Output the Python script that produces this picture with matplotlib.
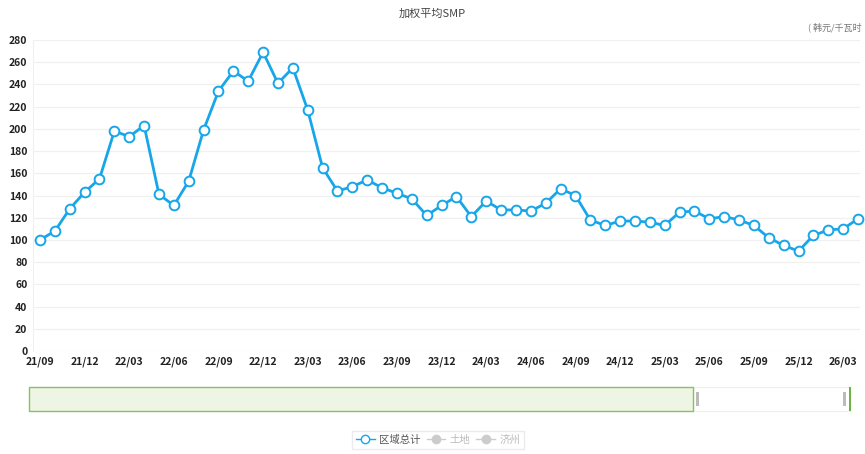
import matplotlib.pyplot as plt
from matplotlib.patches import Rectangle
from matplotlib.lines import Line2D

plt.rcParams['font.family'] = ['Noto Sans CJK SC', 'DejaVu Sans']

# monthly weighted average SMP, 21/09 .. 26/04
start_year = 21
start_month = 9
smp = [100, 108, 128, 143, 155, 198, 193, 203, 141, 131,
       153, 199, 234, 252, 243, 269, 241, 255, 217, 165,
       144, 148, 154, 147, 142, 137, 122, 131, 139, 121,
       135, 127, 127, 126, 133, 146, 140, 118, 113, 117,
       117, 116, 113, 125, 126, 119, 121, 118, 113, 102,
       95, 90, 104, 109, 110, 119]
yticks = list(range(0, 281, 20))
legend_names = ['区域总计', '土地', '济州']

months = []
for i in range(len(smp)):
    m = start_month - 1 + i
    months.append('%02d/%02d' % (start_year + m // 12, m % 12 + 1))
x = list(range(len(smp)))

fig = plt.figure(figsize=(8.65, 4.54), dpi=100)
ax = fig.add_axes([33 / 865, 103 / 454, 827 / 865, 311 / 454])

blue = '#16a6e9'
ax.plot(x, smp, color=blue, lw=2.0, marker='o', ms=7, mfc='white',
        mec=blue, mew=1.4, zorder=3, clip_on=False)

ax.set_xlim(-7 / 14.88, len(smp) - 1 + 2 / 14.88)
ax.set_ylim(0, 280)
ax.set_yticks(yticks)
ax.set_xticks(x[::3])
ax.set_xticklabels(months[::3])
ax.grid(axis='y', color='#f0f0f0', lw=0.9)
ax.set_axisbelow(True)
for s in ['top', 'right', 'bottom']:
    ax.spines[s].set_visible(False)
ax.spines['left'].set_color('#f0f0f0')
ax.tick_params(length=0, labelsize=7.5, colors='#222222', pad=4)
for lab in ax.get_xticklabels() + ax.get_yticklabels():
    lab.set_fontweight('bold')

fig.text(432 / 865, 1 - 14 / 454, '加权平均SMP', ha='center', va='center',
         fontsize=8, color='#444444')
fig.text(808 / 865, 1 - 27 / 454, '( 韩元/千瓦时', ha='left', va='center',
         fontsize=6.5, color='#777777')

# data zoom slider
def px_rect(x0, y0, x1, y1, **kw):
    r = Rectangle((x0 / 865, 1 - y1 / 454), (x1 - x0) / 865, (y1 - y0) / 454,
                  transform=fig.transFigure, **kw)
    fig.add_artist(r)

px_rect(693, 387, 850, 411, facecolor='white', edgecolor='#eeeeee', lw=0.8)
px_rect(29, 387, 693, 411, facecolor='#eef5e4', edgecolor='#86c45a', lw=1.0)
px_rect(696, 392, 699, 406, facecolor='#bbbbbb', edgecolor='none')
px_rect(843, 392, 846, 406, facecolor='#bbbbbb', edgecolor='none')
px_rect(849, 387, 851, 411, facecolor='#6cb33f', edgecolor='none')

handles = [
    Line2D([], [], color=blue, lw=1, marker='o', ms=6, mfc='white', mec=blue),
    Line2D([], [], color='#cccccc', lw=1, marker='o', ms=6, mfc='#cccccc', mec='#cccccc'),
    Line2D([], [], color='#cccccc', lw=1, marker='o', ms=6, mfc='#cccccc', mec='#cccccc'),
]
leg = fig.legend(handles, legend_names, loc='center', ncol=3,
                 bbox_to_anchor=(438 / 865, 1 - 440 / 454), fontsize=7.5,
                 frameon=True, fancybox=False, edgecolor='#e6e6e6',
                 handlelength=1.8, handletextpad=0.4, columnspacing=0.6,
                 borderpad=0.35)
for t, c in zip(leg.get_texts(), ['#555555', '#bbbbbb', '#bbbbbb']):
    t.set_color(c)

fig.savefig('out.png', dpi=100)
